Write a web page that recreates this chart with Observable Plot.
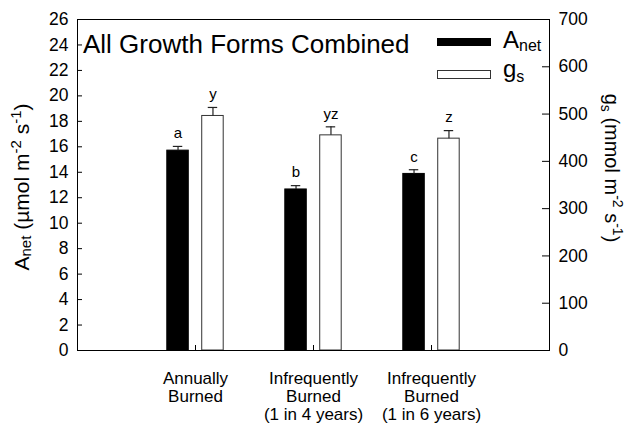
<!DOCTYPE html>
<html>
<head>
<meta charset="utf-8">
<script src="https://cdn.jsdelivr.net/npm/d3@7"></script>
<script src="https://cdn.jsdelivr.net/npm/@observablehq/plot@0.6"></script>
<style>
  html, body { margin: 0; padding: 0; background: white; }
  #chart svg { display: block; }
</style>
</head>
<body>
<div id="chart"></div>
<script>
// ---- data ----
const categories = ["Annually\nBurned", "Infrequently\nBurned\n(1 in 4 years)", "Infrequently\nBurned\n(1 in 6 years)"];
const anet = [15.7, 12.65, 13.87];          // µmol m-2 s-1 (left axis)
const anetErr = [0.33, 0.3, 0.33];
const gs = [496, 455, 448];                 // mmol m-2 s-1 (right axis)
const gsErr = [18, 18, 17];
const anetLetters = ["a", "b", "c"];
const gsLetters = ["y", "yz", "z"];
const leftTicks = d3.range(0, 27, 2);
const rightTicks = d3.range(0, 701, 100);
const leftMax = 26, rightMax = 700;

const k = leftMax / rightMax; // gs -> left-axis units

const rows = [];
categories.forEach((c, i) => {
  rows.push({pos: i + 1, series: "Anet", off: -0.148, value: anet[i], err: anetErr[i], letter: anetLetters[i]});
  rows.push({pos: i + 1, series: "gs", off: 0.148, value: gs[i] * k, err: gsErr[i] * k, letter: gsLetters[i]});
});
const half = 0.091, cap = 0.04;
const cx = d => d.pos + d.off;

const font = "'Liberation Sans', Arial, Helvetica, sans-serif";

const chart = Plot.plot({
  width: 625,
  height: 424,
  marginLeft: 77,
  marginRight: 76,
  marginTop: 19,
  marginBottom: 74,
  style: {fontFamily: font, fontSize: "17px", color: "black", background: "white"},
  x: {domain: [0, 4], axis: null},
  y: {domain: [0, leftMax], axis: null},
  marks: [
    Plot.rectY(rows, {x1: d => cx(d) - half, x2: d => cx(d) + half, y: "value",
      fill: d => d.series === "Anet" ? "black" : "white",
      stroke: d => d.series === "Anet" ? "black" : "#333", strokeWidth: 1}),
    Plot.ruleX(rows, {x: cx, y1: "value", y2: d => d.value + d.err, stroke: "#222", strokeWidth: 1.2}),
    Plot.ruleY(rows, {y: d => d.value + d.err, x1: d => cx(d) - cap, x2: d => cx(d) + cap, stroke: "#222", strokeWidth: 1.2}),
    Plot.text(rows, {x: cx, y: d => d.value + d.err, text: "letter", dy: -13, fontSize: 15, fill: "black"}),
    Plot.frame({stroke: "black", strokeWidth: 1}),
    Plot.axisY({ticks: leftTicks, anchor: "left", tickSize: -5, tickPadding: 14, label: null, fontSize: 17.5}),
    Plot.axisY({ticks: rightTicks.map(v => v * k), anchor: "right", tickSize: -8, tickPadding: 17,
      tickFormat: v => String(Math.round(v / k)), label: null, fontSize: 17.5}),
    Plot.axisX({ticks: [1, 2, 3], tickSize: -5, tickFormat: () => "", label: null}),
    Plot.axisX({ticks: [1, 2, 3], tickSize: 0, tickPadding: 21, tickFormat: v => categories[v - 1],
      label: null, fontSize: 17, lineHeight: 1.05})
  ]
});

const svg = d3.select(chart);
// title
svg.append("text").attr("x", 83).attr("y", 53).attr("text-anchor", "start")
  .attr("font-family", font).attr("font-size", 26).attr("fill", "black")
  .text("All Growth Forms Combined");

// legend
svg.append("rect").attr("x", 437).attr("y", 38).attr("width", 54).attr("height", 8).attr("fill", "black");
svg.append("rect").attr("x", 437.5).attr("y", 70.5).attr("width", 53).attr("height", 8).attr("fill", "white").attr("stroke", "#333");
const lg1 = svg.append("text").attr("x", 503).attr("y", 48).attr("text-anchor", "start").attr("font-family", font).attr("font-size", 24).attr("fill", "black");
lg1.append("tspan").text("A");
lg1.append("tspan").attr("font-size", 16).attr("dy", 3).text("net");
const lg2 = svg.append("text").attr("x", 503).attr("y", 77).attr("text-anchor", "start").attr("font-family", font).attr("font-size", 24).attr("fill", "black");
lg2.append("tspan").text("g");
lg2.append("tspan").attr("font-size", 16).attr("dy", 5).text("s");

// left axis title
const lt = svg.append("text").attr("transform", "translate(29,187) rotate(-90)")
  .attr("text-anchor", "middle").attr("font-family", font).attr("font-size", 21).attr("fill", "black");
lt.append("tspan").text("A");
lt.append("tspan").attr("font-size", 15).attr("dy", 2).text("net");
lt.append("tspan").attr("dy", -2).text(" (\u00b5mol m");
lt.append("tspan").attr("font-size", 15).attr("dy", -8).text("-2");
lt.append("tspan").attr("dy", 8).text(" s");
lt.append("tspan").attr("font-size", 15).attr("dy", -8).text("-1");
lt.append("tspan").attr("dy", 8).text(")");

// right axis title
const rt = svg.append("text").attr("transform", "translate(605,168) rotate(90)")
  .attr("text-anchor", "middle").attr("font-family", font).attr("font-size", 20).attr("fill", "black");
rt.append("tspan").text("g");
rt.append("tspan").attr("font-size", 14).attr("dy", 4).text("s");
rt.append("tspan").attr("dy", -4).text(" (mmol m");
rt.append("tspan").attr("font-size", 14).attr("dy", -8).text("-2");
rt.append("tspan").attr("dy", 8).text(" s");
rt.append("tspan").attr("font-size", 14).attr("dy", -8).text("-1");
rt.append("tspan").attr("dy", 8).text(")");

document.getElementById("chart").appendChild(chart);
</script>
</body>
</html>
